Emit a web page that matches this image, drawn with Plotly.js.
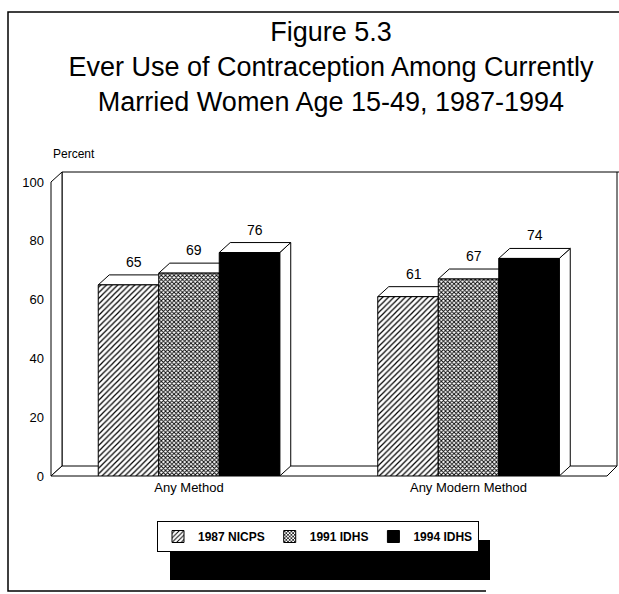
<!DOCTYPE html>
<html>
<head>
<meta charset="utf-8">
<script src="https://cdn.plot.ly/plotly-3.0.1.min.js"></script>
<style>html,body{margin:0;padding:0;background:#fff;}#chart{width:619px;height:594px;}</style>
</head>
<body>
<div id="chart"></div>
<script>
// ---- data ----
const categories = ['Any Method', 'Any Modern Method'];
const seriesNames = ['1987 NICPS', '1991 IDHS', '1994 IDHS'];
const nicps1987 = [65, 61];
const idhs1991 = [69, 67];
const idhs1994 = [76, 74];
const yTicks = [0, 20, 40, 60, 80, 100];

// ---- geometry (px) ----
const W = 619, H = 594;
const M = {l: 51, r: 12, t: 182, b: 118};
const PW = W - M.l - M.r, PH = H - M.t - M.b;
const xRange = [-0.4937, 1.4955];
const yRange = [0, 100];
const unitX = PW / (xRange[1] - xRange[0]);
const unitY = PH / (yRange[1] - yRange[0]);
const depthPx = {x: 11, y: 10};
const dx = depthPx.x / unitX, dy = depthPx.y / unitY;
const barW = 60.5 / unitX;

const px = v => (v - M.l) / PW;          // pixel x -> paper
const py = v => (H - M.b - v) / PH;      // pixel y -> paper

const seriesValues = [nicps1987, idhs1991, idhs1994];
const patterns = [
  {shape: '/', fgcolor: '#000', bgcolor: '#fff', size: 4, solidity: 0.3},
  {shape: 'x', fgcolor: '#000', bgcolor: '#fff', size: 3, solidity: 0.5},
  {shape: '', fgcolor: '#000', bgcolor: '#000'}
];
const colors = ['#fff', '#fff', '#000'];
const xIdx = categories.map((c, i) => i);

const traces = seriesNames.map((name, s) => ({
  type: 'bar',
  name: name,
  x: xIdx,
  y: seriesValues[s],
  width: barW,
  offset: (s - 1.5) * barW,
  marker: {color: colors[s], pattern: patterns[s], line: {color: '#000', width: 1}},
  hoverinfo: 'skip'
}));

// ---- shapes ----
const shapes = [];
const line = {color: '#000', width: 1};
// back wall
shapes.push({type: 'path', xref: 'paper', yref: 'paper', layer: 'below',
  path: `M ${px(62)} ${py(466)} L ${px(62)} ${py(172)} L ${px(619)} ${py(172)} M ${px(617)} ${py(172)} L ${px(617)} ${py(466)}`,
  line: line});
// left wall
shapes.push({type: 'path', xref: 'paper', yref: 'paper', layer: 'below',
  path: `M ${px(51)} ${py(476)} L ${px(51)} ${py(182)} L ${px(62)} ${py(172)} L ${px(62)} ${py(466)} Z`,
  fillcolor: '#fff', line: line});
// floor
shapes.push({type: 'path', xref: 'paper', yref: 'paper', layer: 'below',
  path: `M ${px(51)} ${py(476)} L ${px(607)} ${py(476)} L ${px(617)} ${py(466)} L ${px(62)} ${py(466)} Z`,
  fillcolor: '#fff', line: line});
// outer frame
shapes.push({type: 'path', xref: 'paper', yref: 'paper', layer: 'below',
  path: `M ${px(619)} ${py(12)} L ${px(8)} ${py(12)} L ${px(8)} ${py(591)} L ${px(486)} ${py(591)}`,
  line: {color: '#000', width: 1.5}});

// 3D faces of bars (data coords)
const annotations = [];
seriesValues.forEach((vals, s) => {
  vals.forEach((v, j) => {
    const x0 = j + (s - 1.5) * barW, x1 = x0 + barW;
    shapes.push({type: 'path', xref: 'x', yref: 'y', layer: 'below',
      path: `M ${x1} 0 L ${x1} ${v} L ${x1 + dx} ${v + dy} L ${x1 + dx} ${dy} Z`,
      fillcolor: '#fff', line: line});
    shapes.push({type: 'path', xref: 'x', yref: 'y', layer: 'below',
      path: `M ${x0} ${v} L ${x1} ${v} L ${x1 + dx} ${v + dy} L ${x0 + dx} ${v + dy} Z`,
      fillcolor: '#fff', line: line});
    annotations.push({xref: 'x', yref: 'y', x: (x0 + x1) / 2 + dx / 2, y: v + dy,
      yanchor: 'bottom', yshift: 3, showarrow: false, text: String(v),
      font: {family: 'Liberation Sans, Arial, sans-serif', size: 14, color: '#000'}});
  });
});

annotations.push({xref: 'paper', yref: 'paper', x: px(51), y: py(154), xanchor: 'left', yanchor: 'middle',
  showarrow: false, text: 'Percent', font: {family: 'Liberation Sans, Arial, sans-serif', size: 12, color: '#000'}});

// legend shadow (drawn beneath the legend box)
const legL = 157, legT = 521;
shapes.push({type: 'rect', xref: 'paper', yref: 'paper', layer: 'above',
  x0: px(170), x1: px(490), y0: py(540), y1: py(580), fillcolor: '#000', line: {width: 0}});

const layout = {
  width: W, height: H,
  margin: M,
  paper_bgcolor: '#fff',
  plot_bgcolor: 'rgba(0,0,0,0)',
  font: {family: 'Liberation Sans, Arial, sans-serif', color: '#000'},
  title: {
    text: 'Figure 5.3<br>Ever Use of Contraception Among Currently<br>Married Women Age 15-49, 1987-1994',
    font: {family: 'Liberation Sans, Arial, sans-serif', size: 27, color: '#000'},
    x: 331 / W, xanchor: 'center', y: 1 - 41 / H, yanchor: 'top'
  },
  xaxis: {range: xRange, tickvals: xIdx, ticktext: categories, showgrid: false, zeroline: false,
    showline: false, ticks: '', tickfont: {size: 13}, ticklabelstandoff: 2, fixedrange: true},
  yaxis: {range: yRange, tickvals: yTicks, showgrid: false, zeroline: false, showline: false,
    ticks: '', tickfont: {size: 13}, ticklabelstandoff: 6, fixedrange: true},
  barmode: 'overlay',
  showlegend: true,
  legend: {orientation: 'h', x: px(legL), y: py(legT), xanchor: 'left', yanchor: 'top',
    bgcolor: '#fff', bordercolor: '#000', borderwidth: 1,
    font: {size: 12, weight: 'bold', color: '#000'}, traceorder: 'normal'},
  shapes: shapes,
  annotations: annotations
};

Plotly.newPlot('chart', traces, layout, {displayModeBar: false, staticPlot: true});
</script>
</body>
</html>
